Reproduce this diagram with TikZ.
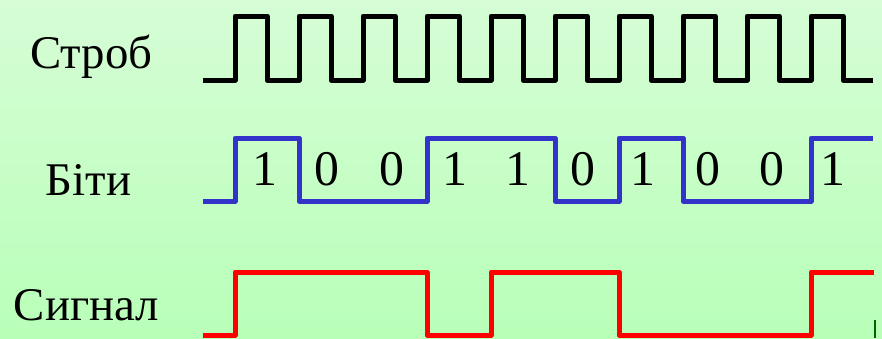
\documentclass[tikz,border=0pt]{standalone}
\usepackage{fontspec}
\setmainfont{Liberation Serif}
\definecolor{bgtop}{RGB}{214,253,214}
\definecolor{bgbot}{RGB}{184,255,184}
\definecolor{bitblue}{RGB}{51,51,204}
\definecolor{sigred}{RGB}{255,0,0}
\definecolor{markgreen}{RGB}{0,100,0}
\begin{document}
\begin{tikzpicture}[x=1bp,y=-1bp,
  wave/.style={line width=5bp, line join=round},
  lbl/.style={font=\fontsize{47}{47}\selectfont, anchor=base, inner sep=0pt},
  digit/.style={font=\fontsize{50}{50}\selectfont, anchor=base, inner sep=0pt}]
\useasboundingbox (0,0) rectangle (882,338);
\shade[top color=bgtop, bottom color=bgbot] (0,0) rectangle (882,338);
% labels
\node[lbl] (strob) at (91.5,68) {Строб};
\node[lbl] (bity) at (88.5,195) {Біти};
\node[lbl] (syhnal) at (86.5,320) {Сигнал};
% strobe
\draw[wave, black] (203,80) foreach \r in {235,299,...,811} { -- (\r,80) -- (\r,16) -- (\r+32,16) -- (\r+32,80) } -- (873,80);
% bits
\draw[wave, bitblue] (203,201) -- (235,201) -- (235,138) -- (299,138) -- (299,201) -- (427,201) -- (427,138) -- (555,138) -- (555,201) -- (619,201) -- (619,138) -- (683,138) -- (683,201) -- (811,201) -- (811,138) -- (873,138);
\foreach \x/\b [count=\i] in {265/1,327/0,392/0,455/1,518/1,583/0,643/1,708/0,772/0,833/1}
  \node[digit] (d\i) at (\x,185) {\b};
% signal
\draw[wave, sigred] (203,335) -- (235,335) -- (235,272) -- (427,272) -- (427,335) -- (491,335) -- (491,272) -- (619,272) -- (619,335) -- (811,335) -- (811,272) -- (874,272);
% small mark
\draw[markgreen, line width=2bp] (875,320) -- (875,338);
\end{tikzpicture}
\end{document}
